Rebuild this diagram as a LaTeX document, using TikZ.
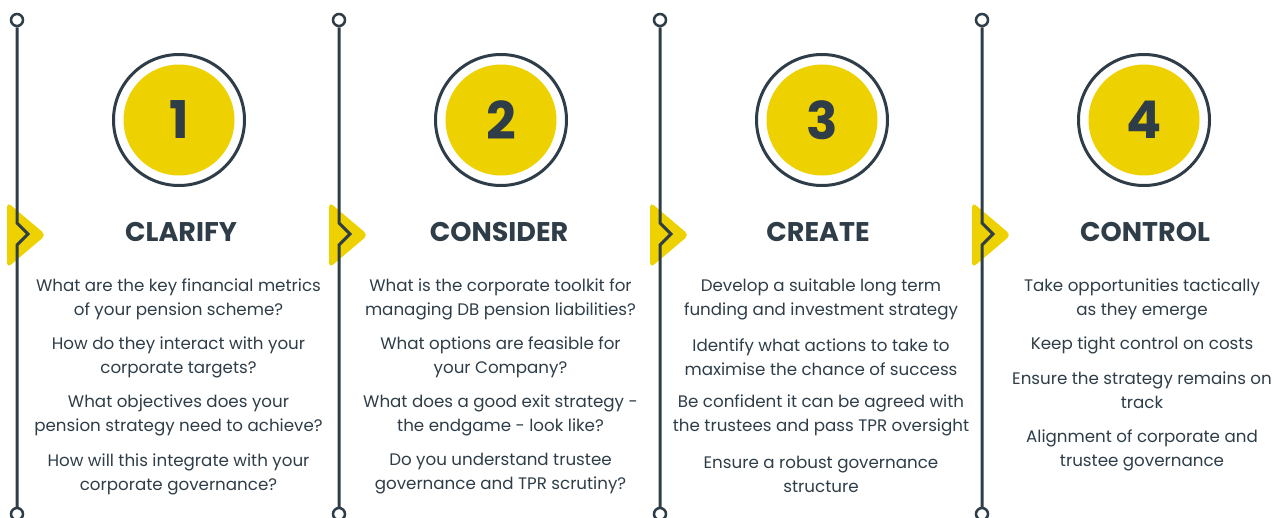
\documentclass[tikz,border=0pt]{standalone}
\usepackage{fontspec}
\setmainfont{Poppins}
\definecolor{slate}{HTML}{2E3D47}
\definecolor{gold}{HTML}{EDD100}
\begin{document}
\begin{tikzpicture}[x=1pt,y=-1pt,
  rail/.style={draw=slate,line width=3pt,line join=miter},
  knob/.style={circle,draw=slate,fill=white,line width=2.5pt,minimum size=12pt,inner sep=0pt},
  flag/.style={fill=gold,rounded corners=5pt},
  ring/.style={circle,draw=slate,line width=3pt,fill=white,minimum size=131pt,inner sep=0pt},
  disc/.style={circle,fill=gold,minimum size=111pt,inner sep=0pt,text=slate,font=\fontsize{52}{52}\selectfont\bfseries},
  ttl/.style={text=slate,font=\fontsize{27}{30}\selectfont\bfseries,inner sep=0pt},
  body/.style={text=slate,align=center,font=\fontsize{16.7}{24}\selectfont,inner sep=0pt}
]
\useasboundingbox (0,0) rectangle (1282,517);
\foreach \i/\x/\tx/\num/\name in {1/17/181/1/CLARIFY,2/339/499/2/CONSIDER,3/660/818/3/CREATE,4/982/1145/4/CONTROL}{
  \fill[flag] (\x-10,202) -- (\x+29,235) -- (\x-10,268) -- cycle;
  \node[knob] (top\i) at (\x,20) {};
  \node[knob] (bot\i) at (\x,514) {};
  \coordinate (za\i) at (\x,223);
  \coordinate (zb\i) at (\x+11,234);
  \coordinate (zc\i) at (\x,245);
  \draw[rail] (top\i) -- (za\i) -- (zb\i) -- (zc\i) -- (bot\i);
  \node[ring] (ring\i) at (\x+162,120) {};
  \node[disc] (disc\i) at (ring\i) {\num};
  \node[ttl] (title\i) at (\tx,232) {\name};
}
\node[body] (p11) at (178.5,299) {What are the key financial metrics\\of your pension scheme?};
\node[body] (p12) at (178.5,357) {How do they interact with your\\corporate targets?};
\node[body] (p13) at (178.5,415) {What objectives does your\\pension strategy need to achieve?};
\node[body] (p14) at (178.5,474) {How will this integrate with your\\corporate governance?};
\node[body] (p21) at (500.5,299) {What is the corporate toolkit for\\managing DB pension liabilities?};
\node[body] (p22) at (500.5,357) {What options are feasible for\\your Company?};
\node[body] (p23) at (500.5,415) {What does a good exit strategy -\\the endgame - look like?};
\node[body] (p24) at (500.5,474) {Do you understand trustee\\governance and TPR scrutiny?};
\node[body] (p31) at (821,299) {Develop a suitable long term\\funding and investment strategy};
\node[body] (p32) at (821,357) {Identify what actions to take to\\maximise the chance of success};
\node[body] (p33) at (821,415) {Be confident it can be agreed with\\the trustees and pass TPR oversight};
\node[body] (p34) at (821,474) {Ensure a robust governance\\structure};
\node[body] (p41) at (1142,299) {Take opportunities tactically\\as they emerge};
\node[body] (p42) at (1142,345) {Keep tight control on costs};
\node[body] (p43) at (1142,390) {Ensure the strategy remains on\\track};
\node[body] (p44) at (1142,450) {Alignment of corporate and\\trustee governance};
\end{tikzpicture}
\end{document}
